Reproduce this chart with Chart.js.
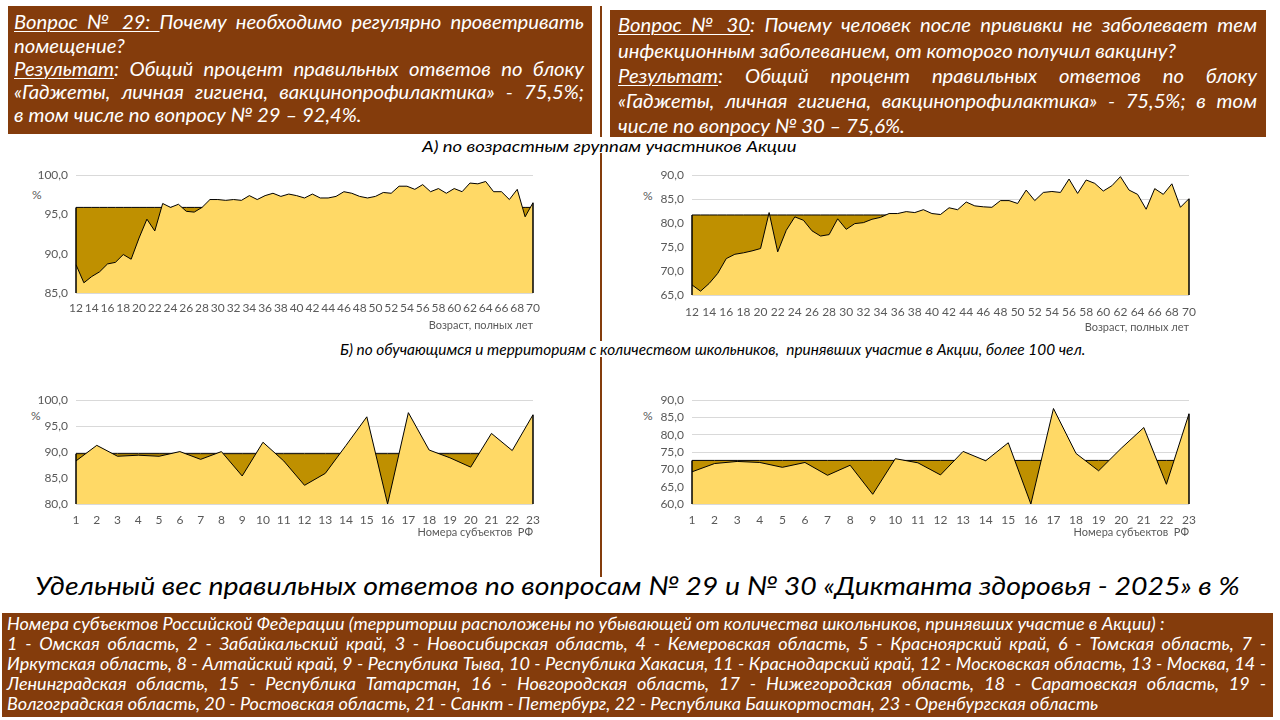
<!DOCTYPE html>
<html lang="ru"><head><meta charset="utf-8">
<script src="https://cdn.jsdelivr.net/npm/chart.js@4.4.1/dist/chart.umd.min.js"></script>
<style>
html,body{margin:0;padding:0;background:#fff;}
#slide{position:relative;width:1280px;height:720px;overflow:hidden;font-family:Lato,"Open Sans",sans-serif;}
.box{position:absolute;background:#843C0C;color:#fff;font-style:italic;}
.inner{position:absolute;transform-origin:0 0;}
.ln{white-space:nowrap;}
.j{text-align:justify;text-align-last:justify;}
.u{text-decoration:underline;text-decoration-thickness:1px;text-underline-offset:2px;}
.txt{position:absolute;font-style:italic;white-space:nowrap;transform-origin:0 50%;color:#000;}
.cv{position:absolute;}
.pct{position:absolute;font-size:12px;color:#595959;line-height:14px;}
.vl{position:absolute;left:600px;width:1.5px;background:#843C0C;}
</style></head>
<body><div id="slide">
<div class="box" id="b1" style="left:8px;top:6px;width:584px;height:128px;font-size:20px;">
 <div class="inner" data-w="570" style="left:6px;top:4.3px;line-height:23.3px;">
  <div class="ln j"><span class="c"><span class="u">Вопрос № 29: </span>Почему необходимо регулярно проветривать</span></div>
  <div class="ln"><span class="c">помещение?</span></div>
  <div class="ln j"><span class="c"><span class="u">Результат</span>: Общий процент правильных ответов по блоку</span></div>
  <div class="ln j"><span class="c">«Гаджеты, личная гигиена, вакцинопрофилактика» - 75,5%;</span></div>
  <div class="ln"><span class="c">в том числе по вопросу № 29 – 92,4%.</span></div>
 </div>
</div>
<div class="box" id="b2" style="left:610px;top:10px;width:656px;height:127px;font-size:20px;">
 <div class="inner" data-w="639" style="left:8px;top:2.3px;line-height:25.3px;">
  <div class="ln j"><span class="c"><span class="u">Вопрос № 30</span>: Почему человек после прививки не заболевает тем</span></div>
  <div class="ln"><span class="c">инфекционным заболеванием, от которого получил вакцину?</span></div>
  <div class="ln j"><span class="c"><span class="u">Результат</span>: Общий процент правильных ответов по блоку</span></div>
  <div class="ln j"><span class="c">«Гаджеты, личная гигиена, вакцинопрофилактика» - 75,5%; в том</span></div>
  <div class="ln"><span class="c">числе по вопросу № 30 – 75,6%.</span></div>
 </div>
</div>
<div class="box" id="b3" style="left:2px;top:613px;width:1271px;height:104px;font-size:18px;">
 <div class="inner" data-w="1259" style="left:5px;top:0px;line-height:20px;">
  <div class="ln"><span class="c">Номера субъектов Российской Федерации (территории расположены по убывающей от количества школьников, принявших участие в Акции) :</span></div>
  <div class="ln j"><span class="c">1 - Омская область, 2 - Забайкальский край, 3 - Новосибирская область, 4 - Кемеровская область, 5 - Красноярский край, 6 - Томская область, 7 -</span></div>
  <div class="ln j"><span class="c">Иркутская область, 8 - Алтайский край, 9 - Республика Тыва, 10 - Республика Хакасия, 11 - Краснодарский край, 12 - Московская область, 13 - Москва, 14 -</span></div>
  <div class="ln j"><span class="c">Ленинградская область, 15 - Республика Татарстан, 16 - Новгородская область, 17 - Нижегородская область, 18 - Саратовская область, 19 -</span></div>
  <div class="ln"><span class="c">Волгоградская область, 20 - Ростовская область, 21 - Санкт - Петербург, 22 - Республика Башкортостан, 23 - Оренбургская область</span></div>
 </div>
</div>

<div class="vl" style="top:6px;height:131px;"></div>
<div class="vl" style="top:153px;height:188px;"></div>
<div class="vl" style="top:357px;height:220px;"></div>

<div class="txt" data-w="375" style="left:422px;top:137px;font-size:15px;line-height:18px;">А) по возрастным группам участников Акции</div>
<div class="txt" data-w="745" style="left:340px;top:340px;font-size:15px;line-height:18px;">Б) по обучающимся и территориям с количеством школьников,&nbsp; принявших участие в Акции, более 100 чел.</div>
<div class="txt" data-w="1205" style="left:35px;top:569px;font-size:26px;line-height:32px;">Удельный вес правильных ответов по вопросам № 29 и № 30 «Диктанта здоровья - 2025» в %</div>

<div class="pct" style="left:32px;top:188px;">%</div>
<div class="pct" style="left:643px;top:189px;">%</div>
<div class="pct" style="left:31px;top:409px;">%</div>
<div class="pct" style="left:643px;top:409px;">%</div>

<canvas class="cv" id="c1" width="560" height="172" style="left:0px;top:160px;"></canvas>
<canvas class="cv" id="c2" width="620" height="174" style="left:600px;top:160px;"></canvas>
<canvas class="cv" id="c3" width="560" height="154" style="left:0px;top:385px;"></canvas>
<canvas class="cv" id="c4" width="620" height="154" style="left:600px;top:385px;"></canvas>
</div>
<script>
// ---- Data ----
const ages = [12,13,14,15,16,17,18,19,20,21,22,23,24,25,26,27,28,29,30,31,32,33,34,35,36,37,38,39,40,41,42,43,44,45,46,47,48,49,50,51,52,53,54,55,56,57,58,59,60,61,62,63,64,65,66,67,68,69,70];
const q29ByAge = [88.6,86.3,87.1,87.7,88.7,88.9,89.9,89.3,92.0,94.4,92.9,96.4,95.9,96.3,95.4,95.3,95.9,96.9,96.9,96.8,96.9,96.8,97.4,96.9,97.4,97.7,97.3,97.6,97.4,97.1,97.6,97.1,97.1,97.3,97.9,97.7,97.3,97.1,97.3,97.8,97.7,98.6,98.6,98.2,98.8,97.9,98.3,97.7,98.3,97.9,99.0,98.9,99.2,97.9,97.9,96.9,98.2,94.7,96.5];
const q29AgeAvg = 95.9;
const q30ByAge = [67.1,65.8,67.4,69.5,72.6,73.5,73.8,74.2,74.7,82.2,74.0,78.5,81.3,80.6,78.4,77.3,77.6,80.9,78.7,79.9,80.1,80.8,81.2,82.0,82.0,82.4,82.2,82.8,82.0,81.8,83.2,82.8,84.4,83.6,83.4,83.3,84.7,84.7,84.1,86.9,84.7,86.4,86.6,86.4,89.2,86.2,89.0,88.3,86.7,87.8,89.7,86.9,86.0,82.9,87.2,86.0,88.2,83.3,85.1];
const q30AgeAvg = 81.7;
const regions = [1,2,3,4,5,6,7,8,9,10,11,12,13,14,15,16,17,18,19,20,21,22,23];
const q29ByRegion = [88.3,91.3,89.2,89.4,89.2,90.1,88.6,90.1,85.4,91.9,88.3,83.6,85.9,91.3,96.8,80.0,97.6,90.4,88.9,87.1,93.6,90.3,97.2];
const q29RegionAvg = 89.7;
const q30ByRegion = [69.3,71.7,72.3,72.0,70.6,72.0,68.3,71.2,62.8,73.1,71.9,68.4,75.2,72.5,77.7,60.0,87.6,74.6,69.6,76.1,82.1,65.7,86.1];
const q30RegionAvg = 72.6;
const ageAxisTitle = 'Возраст, полных лет';
const regionAxisTitle = 'Номера субъектов  РФ';

// ---- Text fitting ----
function fitBox(id, refIdx, refW){
  const inner = document.querySelector('#'+id+' .inner');
  const W = parseFloat(inner.dataset.w);
  const lines = [...inner.children];
  lines.forEach(l=>l.style.whiteSpace='nowrap');
  const nref = lines[refIdx].firstElementChild.offsetWidth;
  const s = refW / nref;
  const avail = W / s;
  inner.style.width = avail + 'px';
  lines.forEach(l=>{
    const c = l.firstElementChild;
    if (l.classList.contains('j')) {
      const n = c.offsetWidth;
      if (n > avail - 2) l.style.letterSpacing = ((avail - 2 - n) / c.textContent.length) + 'px';
      l.style.whiteSpace = 'normal';
    }
  });
  inner.style.transform = 'scaleX(' + s + ')';
}
function fitTexts(){
  document.querySelectorAll('.txt').forEach(el=>{
    const w = parseFloat(el.dataset.w);
    el.style.transform = 'scaleX(' + (w / el.offsetWidth) + ')';
  });
}
function doFit(){
  fitBox('b1', 4, 348);
  fitBox('b2', 4, 287);
  fitBox('b3', 4, 1091);
  fitTexts();
}
doFit();

// ---- Charts ----
Chart.defaults.font.family = 'Lato, "Open Sans", sans-serif';
const edgePlugin = {
  id: 'edges',
  afterDatasetsDraw(chart){
    const {ctx, scales:{x, y}} = chart;
    const d0 = chart.data.datasets[0].data, d1 = chart.data.datasets[1].data;
    const n = d0.length;
    ctx.save();
    ctx.strokeStyle = '#000';
    ctx.lineWidth = 1.5;
    [0, n-1].forEach(i=>{
      const px = x.getPixelForValue(i);
      ctx.beginPath();
      ctx.moveTo(px, y.getPixelForValue(y.min));
      ctx.lineTo(px, y.getPixelForValue(Math.max(d0[i], d1[i])));
      ctx.stroke();
    });
    ctx.restore();
  }
};
function makeChart(id, labels, values, avg, ymin, ymax, cfg){
  return new Chart(document.getElementById(id), {
    type: 'line',
    data: {
      labels: labels,
      datasets: [
        {data: values, fill: 'start', backgroundColor: '#FFD966', borderColor: '#000', borderWidth: 1, pointRadius: 0, tension: 0, order: 0},
        {data: labels.map(()=>avg), fill: 'start', backgroundColor: '#BF9000', borderColor: '#000', borderWidth: 1, pointRadius: 0, tension: 0, order: 1}
      ]
    },
    options: {
      responsive: false, animation: false,
      layout: {padding: {top: cfg.top, right: cfg.right, bottom: 0, left: 0}},
      plugins: {legend: {display: false}, tooltip: {enabled: false}},
      scales: {
        x: {
          offset: false,
          grid: {display: false, drawTicks: false},
          border: {display: false},
          ticks: {autoSkip: false, maxRotation: 0, minRotation: 0, padding: cfg.xpad, color: '#595959', font: {size: 12},
            callback: (v, i) => (cfg.every2 && i % 2) ? '' : labels[i]},
          title: {display: true, text: cfg.title, align: 'end', padding: 0, color: '#595959', font: {size: 11}},
          afterFit: s => { s.height = cfg.xh; }
        },
        y: {
          min: ymin, max: ymax,
          grid: {color: '#d9d9d9', drawTicks: false, lineWidth: 1},
          border: {display: false},
          ticks: {stepSize: 5, autoSkip: false, padding: 8, color: '#595959', font: {size: 12},
            callback: v => Number(v).toFixed(1).replace('.', ',')},
          afterFit: s => { s.width = cfg.yw; }
        }
      }
    },
    plugins: [edgePlugin]
  });
}
makeChart('c1', ages, q29ByAge, q29AgeAvg, 85, 100, {top: 15, right: 27, xh: 39, yw: 76, xpad: 8, every2: true, title: ageAxisTitle});
makeChart('c2', ages, q30ByAge, q30AgeAvg, 65, 90, {top: 15, right: 31, xh: 39, yw: 92, xpad: 10, every2: true, title: ageAxisTitle});
makeChart('c3', regions, q29ByRegion, q29RegionAvg, 80, 100, {top: 15, right: 27, xh: 35, yw: 76, xpad: 9, every2: false, title: regionAxisTitle});
makeChart('c4', regions, q30ByRegion, q30RegionAvg, 60, 90, {top: 15, right: 31, xh: 35, yw: 92, xpad: 9, every2: false, title: regionAxisTitle});
</script>
</body></html>
